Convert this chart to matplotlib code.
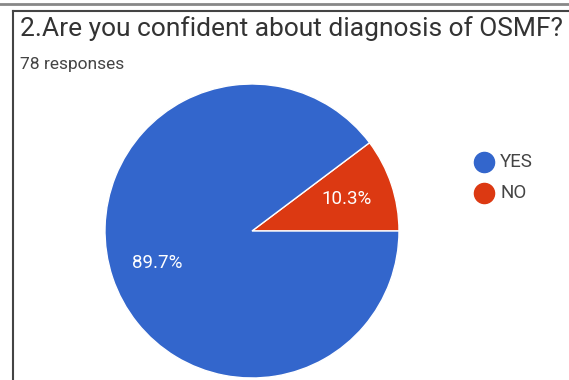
import matplotlib.pyplot as plt
from matplotlib.lines import Line2D

plt.rcParams['font.family'] = ['Roboto', 'DejaVu Sans']

labels = ['YES', 'NO']
counts = [70, 8]
colors = ['#3366cc', '#dc3912']
title = '2.Are you confident about diagnosis of OSMF?'
subtitle = '78 responses'

W, H = 569, 380
fig = plt.figure(figsize=(W / 100, H / 100), dpi=100)

def fx(x):
    return x / W

def fy(y):
    return 1 - y / H

# frame lines of the screenshot
fig.add_artist(Line2D([0, 1], [fy(4), fy(4)], color='#888888', lw=2))
fig.add_artist(Line2D([fx(13), 1], [fy(11), fy(11)], color='#444444', lw=1.5))
fig.add_artist(Line2D([fx(13), fx(13)], [fy(11), 0], color='#444444', lw=1.5))

fig.text(fx(20), fy(29), title, fontsize=19, color='#333333', va='center', ha='left')
fig.text(fx(20), fy(65), subtitle, fontsize=12.5, color='#444444', va='center', ha='left')

# pie axes: centre (252, 231), radius 147 px
cx, cy, r = 252, 231, 147
ax = fig.add_axes([fx(cx - r), fy(cy + r), 2 * r / W, 2 * r / H])
wedges, texts, autotexts = ax.pie(
    counts[::-1], colors=colors[::-1], startangle=0, counterclock=True,
    autopct='%1.1f%%', pctdistance=0.68,
    wedgeprops=dict(edgecolor='white', linewidth=1),
    textprops=dict(color='white', fontsize=13.5))
ax.set_xlim(-1, 1)
ax.set_ylim(-1, 1)
ax.set_aspect('auto')

# legend
for i, (lab, col) in enumerate(zip(labels, colors)):
    y = 162 + i * 31
    fig.add_artist(Line2D([fx(484)], [fy(y)], marker='o', markersize=14.5,
                          color=col, linestyle='none'))
    fig.text(fx(500), fy(y), lab, fontsize=13.5, color='#444444', va='center', ha='left')

fig.savefig('out.png', dpi=100)
